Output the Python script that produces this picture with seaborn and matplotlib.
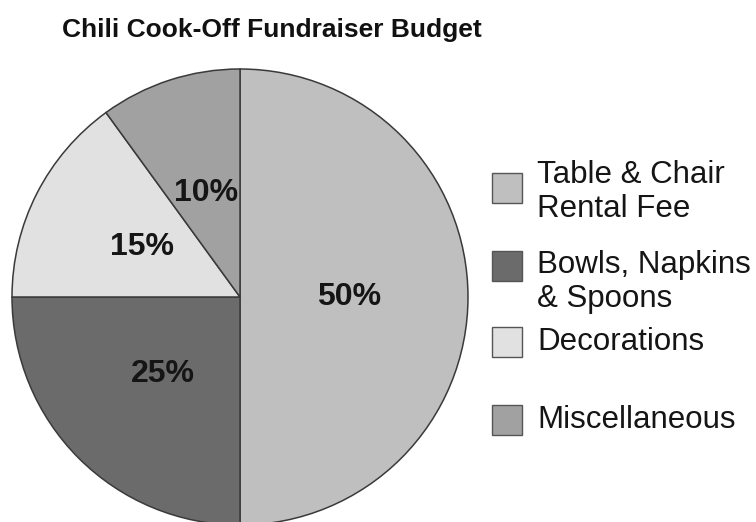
import matplotlib
matplotlib.use("Agg")
import matplotlib.pyplot as plt
from matplotlib.patches import Rectangle
import seaborn as sns

# data
categories = ["Table & Chair\nRental Fee", "Bowls, Napkins\n& Spoons", "Decorations", "Miscellaneous"]
shares = [50, 25, 15, 10]
colors = ["#bfbfbf", "#6b6b6b", "#e1e1e1", "#a1a1a1"]
title = "Chili Cook-Off Fundraiser Budget"

sns.set_theme(style="white")
plt.rcParams['font.family'] = ['Liberation Sans', 'DejaVu Sans']

W, H = 756, 522
fig = plt.figure(figsize=(W / 100, H / 100), dpi=100)
fig.patch.set_facecolor("white")


def fx(px):
    return px / W


def fy(py):
    return 1 - py / H


# pie runs a little off the bottom edge of the picture
r = 228
ax = fig.add_axes([fx(240 - r), fy(297 + r), 2 * r / W, 2 * r / H])
wedges, _, autotexts = ax.pie(
    shares, colors=colors, startangle=90, counterclock=False,
    autopct=lambda p: f"{p:.0f}%", pctdistance=0.48,
    wedgeprops=dict(edgecolor="#3a3a3a", linewidth=1.1),
    textprops=dict(fontsize=23, fontweight="bold", color="#151515"))
ax.set_xlim(-1, 1)
ax.set_ylim(-1, 1)

fig.text(fx(272), fy(37), title, ha="center", va="baseline", fontsize=19,
         fontweight="bold", color="#111111")

# legend drawn by hand to keep the even spacing of the original
patch_y = [188, 266, 342, 420]
text_y = [192, 282, 342, 420]
for lab, col, py, ty in zip(categories, colors, patch_y, text_y):
    fig.add_artist(Rectangle((fx(492), fy(py + 15)), 30 / W, 30 / H,
                             transform=fig.transFigure, facecolor=col,
                             edgecolor="#555555", linewidth=1.0))
    fig.text(fx(537), fy(ty), lab, ha="left", va="center", fontsize=22.5,
             color="#151515", linespacing=1.15)

fig.savefig("out.png", dpi=100)
